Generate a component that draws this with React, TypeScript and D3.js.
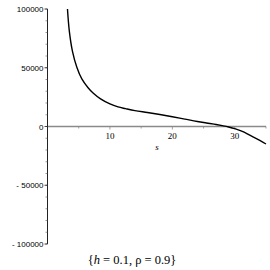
import React, { useRef, useEffect } from "react";
import * as d3 from "d3";

const sValues = [3.2, 3.5, 4, 4.7, 5.5, 6.5, 7.3, 8.5, 10, 11.3, 12.5, 14, 16, 18, 20, 22, 24, 26, 27, 28, 29, 30, 31, 32, 33, 34, 35];
const fValues = [100000, 81000, 64000, 50500, 40500, 33000, 28500, 23500, 19200, 16700, 15200, 13500, 11900, 10200, 8300, 6300, 4300, 2600, 1700, 700, -400, -1800, -3800, -6200, -9000, -11900, -14900];
const xMajorTicks = [10, 20, 30];
const xMinorTicks = [5, 15, 25, 35];
const yMajorTicks = [-100000, -50000, 0, 50000, 100000];
const yMinorTicks = d3.range(-100000, 100001, 10000);
const title = ["{", "h", " = 0.1, ρ = 0.9}"];

const App = () => {
  const svgRef = useRef(null);

  useEffect(() => {
    const svg = d3.select(svgRef.current);
    svg.selectAll("*").remove();

    const x = d3.scaleLinear().domain([0, 35]).range([47.5, 266]);
    const y = d3.scaleLinear().domain([-100000, 100000]).range([244, 9]);

    // x axis (gray line through zero)
    svg.append("line")
      .attr("x1", x(0)).attr("x2", x(35))
      .attr("y1", y(0)).attr("y2", y(0))
      .attr("stroke", "#8a8a8a").attr("stroke-width", 1.3);

    svg.selectAll(".xminor").data(xMinorTicks).enter().append("line")
      .attr("x1", (d) => x(d)).attr("x2", (d) => x(d))
      .attr("y1", y(0)).attr("y2", y(0) + 2)
      .attr("stroke", "#8a8a8a").attr("stroke-width", 0.8);

    svg.selectAll(".xmajor").data(xMajorTicks).enter().append("line")
      .attr("x1", (d) => x(d)).attr("x2", (d) => x(d))
      .attr("y1", y(0)).attr("y2", y(0) + 3)
      .attr("stroke", "#8a8a8a").attr("stroke-width", 0.8);

    svg.selectAll(".xlab").data(xMajorTicks).enter().append("text")
      .attr("x", (d) => x(d)).attr("y", y(0) + 12)
      .attr("text-anchor", "middle")
      .attr("font-family", "Liberation Serif, serif").attr("font-size", 9)
      .text((d) => d);

    svg.append("text")
      .attr("x", 157).attr("y", 150)
      .attr("text-anchor", "middle")
      .attr("font-family", "Liberation Serif, serif").attr("font-style", "italic")
      .attr("font-size", 9)
      .text("s");

    // y axis
    svg.append("line")
      .attr("x1", x(0)).attr("x2", x(0))
      .attr("y1", y(100000)).attr("y2", y(-100000))
      .attr("stroke", "#222").attr("stroke-width", 1);

    svg.selectAll(".yminor").data(yMinorTicks).enter().append("line")
      .attr("x1", x(0) - 2).attr("x2", x(0))
      .attr("y1", (d) => y(d)).attr("y2", (d) => y(d))
      .attr("stroke", "#555").attr("stroke-width", 0.6);

    svg.selectAll(".ymajor").data(yMajorTicks).enter().append("line")
      .attr("x1", x(0) - 3).attr("x2", x(0))
      .attr("y1", (d) => y(d)).attr("y2", (d) => y(d))
      .attr("stroke", "#222").attr("stroke-width", 0.8);

    svg.selectAll(".ylab").data(yMajorTicks).enter().append("text")
      .attr("x", x(0) - 4).attr("y", (d) => y(d) + 3)
      .attr("text-anchor", "end")
      .attr("font-family", "Liberation Sans, sans-serif").attr("font-size", 8)
      .text((d) => (d < 0 ? "- " + Math.abs(d) : String(d)));

    // curve
    const pts = sValues.map((s, i) => [s, fValues[i]]);
    const line = d3.line()
      .x((d) => x(d[0]))
      .y((d) => y(d[1]))
      .curve(d3.curveCatmullRom.alpha(0.5));

    svg.append("path")
      .datum(pts)
      .attr("d", line)
      .attr("fill", "none")
      .attr("stroke", "#000")
      .attr("stroke-width", 1.4);

    // caption
    const cap = svg.append("text")
      .attr("x", 132).attr("y", 264)
      .attr("text-anchor", "middle")
      .attr("font-family", "Liberation Serif, serif").attr("font-size", 12.5);
    cap.append("tspan").text(title[0]);
    cap.append("tspan").attr("font-style", "italic").text(title[1]);
    cap.append("tspan").text(title[2]);
  }, []);

  return (
    <svg
      ref={svgRef}
      width={270}
      height={270}
      style={{ position: "absolute", left: 0, top: 0, background: "#fff" }}
    ></svg>
  );
};

export default App;
